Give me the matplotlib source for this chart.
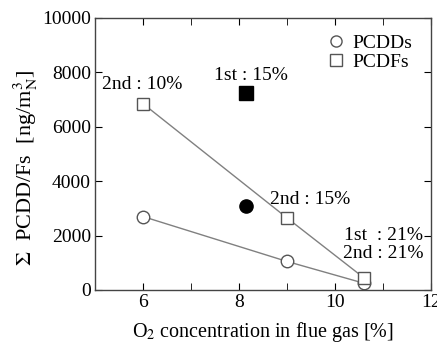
import matplotlib
matplotlib.use("Agg")
import matplotlib.pyplot as plt
from matplotlib.ticker import MultipleLocator

plt.rcParams['font.family'] = ['Liberation Serif', 'DejaVu Serif']
plt.rcParams['mathtext.fontset'] = 'stix'

o2 = [6.0, 9.0, 10.6]
pcdds = [2700, 1050, 250]
pcdfs = [6850, 2650, 450]
first_o2 = [8.15]
first_pcdd = [3100]
first_pcdf = [7250]

labels = ["2nd : 10%", "1st : 15%", "2nd : 15%", "1st  : 21%", "2nd : 21%"]
label_xy = [(5.99, 7540), (8.25, 7900), (9.48, 3345), (11.0, 2020), (11.0, 1360)]

fig = plt.figure(figsize=(4.37, 3.45), dpi=100)
ax = fig.add_axes([95/437, 1 - 290/345, (431-95)/437, (290-18)/345])

gray = '#555555'
ax.plot(o2, pcdds, '-', color='#808080', lw=1.0, marker='o', ms=9, mfc='white', mec=gray, mew=1.0, label='PCDDs')
ax.plot(o2, pcdfs, '-', color='#808080', lw=1.0, marker='s', ms=9, mfc='white', mec=gray, mew=1.0, label='PCDFs')
ax.plot(first_o2, first_pcdd, 'o', ms=9.5, color='black')
ax.plot(first_o2, first_pcdf, 's', ms=9.5, color='black')

for t, (x, y) in zip(labels, label_xy):
    ax.text(x, y, t, fontsize=14, ha='center', va='center')

ax.set_xlim(5, 12)
ax.set_ylim(0, 10000)
ax.set_xticks([6, 8, 10, 12])
ax.xaxis.set_minor_locator(MultipleLocator(1))
ax.yaxis.set_major_locator(MultipleLocator(2000))
ax.tick_params(which='both', direction='in', top=True, right=True, labelsize=14, length=5, pad=3)
for s in ax.spines.values():
    s.set_color('#444444')
    s.set_linewidth(1.0)

ax.set_xlabel(r'O$_2$ concentration in flue gas [%]', fontsize=14.5, labelpad=6)
ax.set_ylabel(r'$\Sigma$  PCDD/Fs  [ng/m$^3_{\rm N}$]', fontsize=16)
ax.yaxis.set_label_coords(-0.165, 0.45)

leg = ax.legend(loc='upper left', bbox_to_anchor=(0.67, 0.97), frameon=False, fontsize=14,
                handlelength=0.8, handletextpad=0.45, labelspacing=0.1, borderaxespad=0.0)
for h in leg.legend_handles:
    h.set_linestyle('None')
    h.set_markersize(8)

fig.savefig('out.png', dpi=100)
